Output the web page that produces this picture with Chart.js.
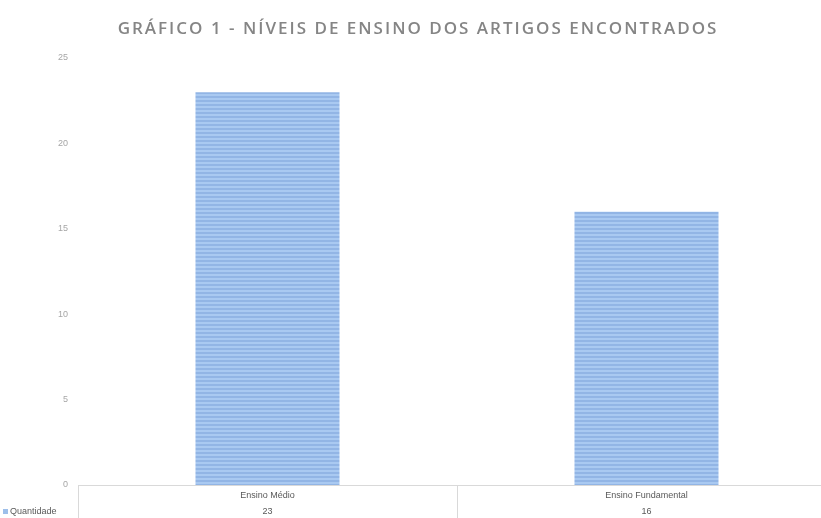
<!DOCTYPE html>
<html>
<head>
<meta charset="utf-8">
<script src="https://cdn.jsdelivr.net/npm/chart.js@4.4.1/dist/chart.umd.min.js"></script>
<style>
  html, body { margin: 0; padding: 0; background: #fff; overflow: hidden; }
  #wrap { width: 836px; height: 518px; }
</style>
</head>
<body>
<div id="wrap"><canvas id="grafico"></canvas></div>
<script>
// dados do gráfico
const categorias = ["Ensino Médio", "Ensino Fundamental"]
const quantidade = [23, 16]
const serieNome = "Quantidade"
const titulo = "GRÁFICO 1 - NÍVEIS DE ENSINO DOS ARTIGOS ENCONTRADOS"
const yTicks = [0, 5, 10, 15, 20, 25]

// padrão listrado das barras
function makeStripes() {
  const c = document.createElement("canvas")
  c.width = 4
  c.height = 4
  const g = c.getContext("2d")
  g.fillStyle = "#a9c9f1"
  g.fillRect(0, 0, 4, 4)
  g.fillStyle = "#92b5e5"
  g.fillRect(0, 0, 4, 2)
  return g.createPattern(c, "repeat")
}

// título com espaçamento entre letras
const tituloPlugin = {
  id: "tituloPlugin",
  afterDraw(chart) {
    const ctx = chart.ctx
    ctx.save()
    ctx.font = "600 17px 'Open Sans', sans-serif"
    ctx.letterSpacing = "2px"
    ctx.fillStyle = "#858585"
    ctx.textAlign = "left"
    ctx.textBaseline = "middle"
    const w = ctx.measureText(titulo).width
    ctx.fillText(titulo, 418 - w / 2, 29)
    ctx.restore()
  }
}

// tabela de dados abaixo do eixo (estilo Excel)
const dataTable = {
  id: "dataTable",
  afterDraw(chart) {
    const ctx = chart.ctx
    const x = chart.scales.x
    const area = chart.chartArea
    const bottom = chart.height
    ctx.save()
    ctx.strokeStyle = "#d9d9d9"
    ctx.lineWidth = 1
    for (let i = 0; i <= categorias.length; i++) {
      const px = Math.round(area.left + (area.right - area.left) * i / categorias.length) + 0.5
      ctx.beginPath()
      ctx.moveTo(px, area.bottom)
      ctx.lineTo(px, bottom)
      ctx.stroke()
    }
    ctx.font = "9px 'Liberation Sans Narrow', 'Arial Narrow', sans-serif"
    ctx.fillStyle = "#595959"
    ctx.textAlign = "center"
    ctx.textBaseline = "middle"
    categorias.forEach((cat, i) => {
      const cx = x.getPixelForValue(i)
      ctx.fillText(cat, cx, area.bottom + 11)
      ctx.fillText(String(quantidade[i]), cx, area.bottom + 27)
    })
    // legenda da linha
    ctx.fillStyle = "#9dbfea"
    ctx.fillRect(3, area.bottom + 24, 5, 5)
    ctx.fillStyle = "#595959"
    ctx.textAlign = "left"
    ctx.fillText(serieNome, 10, area.bottom + 27)
    ctx.restore()
  }
}

const ctx = document.getElementById("grafico")
new Chart(ctx, {
  type: "bar",
  data: {
    labels: categorias,
    datasets: [
      {
        label: serieNome,
        data: quantidade,
        backgroundColor: makeStripes(),
        borderWidth: 0,
        barPercentage: 1,
        categoryPercentage: 0.38,
      },
    ],
  },
  options: {
    responsive: true,
    maintainAspectRatio: false,
    animation: false,
    layout: {
      padding: { left: 0, right: 0, top: 58, bottom: 33 },
    },
    plugins: {
      legend: { display: false },
      tooltip: { enabled: false },
      title: { display: false },
    },
    scales: {
      y: {
        min: 0,
        max: 25,
        afterBuildTicks: (s) => { s.ticks = yTicks.map((v) => ({ value: v })) },
        afterFit: (s) => { s.width = 78 },
        grid: { display: false, drawTicks: false },
        border: { display: false },
        ticks: {
          color: "#a6a6a6",
          padding: 10,
          font: { family: "'Liberation Sans Narrow', 'Arial Narrow', sans-serif", size: 9 },
        },
      },
      x: {
        grid: { display: false, drawTicks: false },
        border: { display: true, color: "#d9d9d9", width: 1 },
        ticks: { display: false },
      },
    },
  },
  plugins: [dataTable, tituloPlugin],
})
</script>
</body>
</html>
